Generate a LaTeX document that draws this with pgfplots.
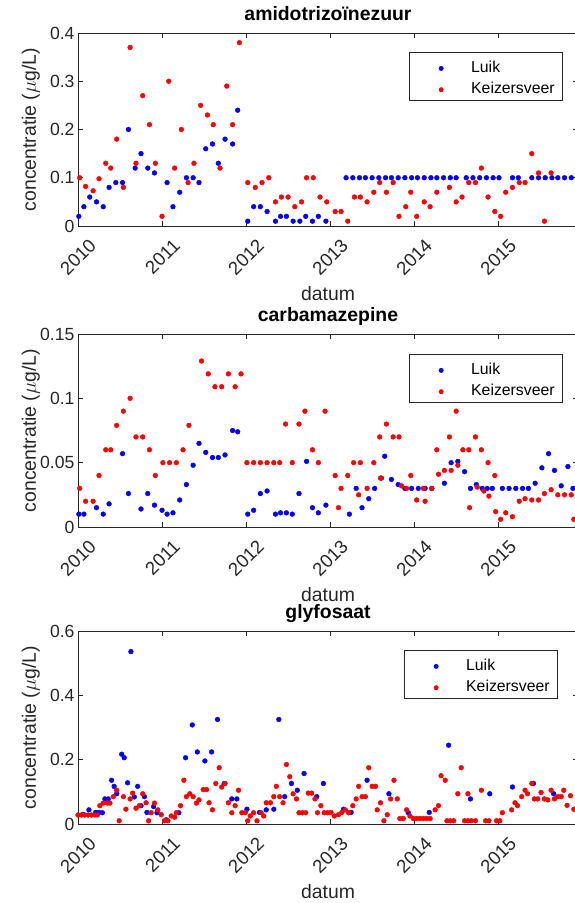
\documentclass[border=0pt]{standalone}
\usepackage{fontspec}
\setmainfont{Liberation Sans}
\usepackage{pgfplots}
\pgfplotsset{compat=1.18}
\definecolor{axgray}{RGB}{38,38,38}
\definecolor{mblue}{RGB}{0,0,255}
\definecolor{mred}{RGB}{255,0,0}
\pgfplotsset{
  mstyle/.style={
    scale only axis, width=500pt, height=193pt,
    xmin=2010, xmax=2015.95,
    xtick={2010,2011,2012,2013,2014,2015},
    xticklabels={2010,2011,2012,2013,2014,2015},
    tick align=inside, major tick length=5pt,
    axis line style={axgray, line width=0.8pt},
    every tick/.style={axgray, line width=0.8pt},
    ticklabel style={font=\fontsize{17.6}{20}\selectfont, text=axgray},
    xticklabel style={xshift=10pt, yshift=-10pt, rotate=45, anchor=north east, inner sep=1pt, font=\fontsize{18.6}{20}\selectfont},
    yticklabel style={/pgf/number format/fixed, /pgf/number format/assume math mode=true},
    xlabel={datum},
    ylabel={concentratie ($\mu$g/L)},
    xlabel style={at={(axis description cs:0.5,-0.311)}, anchor=north, inner sep=0pt},
    ylabel style={at={(axis description cs:-0.076,0.5)}, anchor=south, inner sep=0pt},
    label style={font=\fontsize{19.4}{22}\selectfont, text=axgray},
    title style={at={(axis description cs:0.5,1.036)}, anchor=base, inner sep=0pt, font=\bfseries\fontsize{19.4}{22}\selectfont, text=black},
    legend style={at={(axis description cs:1,1)}, anchor=north east, xshift=-15pt, yshift=-19pt,
      draw=axgray, line width=0.8pt, font=\fontsize{15.8}{18}\selectfont, text=black,
      inner xsep=8pt, inner ysep=6pt, row sep=6.3pt,
      nodes={inner sep=0pt, text height=14pt, text depth=1pt}},
    legend cell align=left,
  },
  lk/.style={only marks, mark=*, color=mblue, mark size=2.4pt,
    legend image code/.code={\path[draw=none,fill=none] (0pt,0pt) rectangle (54pt,0pt); \fill[mblue,draw=none] (24pt,-2.5pt) circle (2.5pt);}},
  kz/.style={only marks, mark=*, color=mred, mark size=2.4pt,
    legend image code/.code={\path[draw=none,fill=none] (0pt,0pt) rectangle (54pt,0pt); \fill[mred,draw=none] (24pt,-2.5pt) circle (2.5pt);}},
}
\begin{document}
\begin{tikzpicture}
% ---------- amidotrizoinezuur ----------
\begin{axis}[mstyle, at={(78pt,677pt)}, anchor=south west,
  ymin=0, ymax=0.4, ytick={0,0.1,0.2,0.3,0.4},
  title={amidotrizoïnezuur}]
\addplot[lk] coordinates {
(2010.01,0.02)(2010.07,0.04)(2010.14,0.06)(2010.22,0.05)(2010.30,0.04)(2010.37,0.08)(2010.45,0.09)(2010.53,0.09)(2010.60,0.20)(2010.68,0.12)(2010.75,0.15)(2010.83,0.12)(2010.91,0.11)(2011.06,0.09)(2011.13,0.04)(2011.21,0.07)(2011.29,0.10)(2011.37,0.10)(2011.44,0.09)(2011.52,0.16)(2011.60,0.17)(2011.67,0.13)(2011.75,0.18)(2011.84,0.17)(2011.90,0.24)(2012.02,0.01)(2012.09,0.04)(2012.17,0.04)(2012.25,0.03)(2012.35,0.01)(2012.41,0.02)(2012.48,0.02)(2012.56,0.01)(2012.64,0.01)(2012.71,0.02)(2012.79,0.01)(2012.86,0.02)(2012.95,0.01)
(2013.19,0.1)(2013.27,0.1)(2013.35,0.1)(2013.42,0.1)(2013.50,0.1)(2013.58,0.1)(2013.66,0.1)(2013.73,0.1)(2013.81,0.1)(2013.89,0.1)(2013.97,0.1)(2014.04,0.1)(2014.12,0.1)(2014.20,0.1)(2014.27,0.1)(2014.35,0.1)(2014.43,0.1)(2014.50,0.1)
(2014.62,0.1)(2014.70,0.1)(2014.78,0.1)(2014.86,0.1)(2014.94,0.1)(2015.01,0.1)(2015.17,0.1)(2015.24,0.1)(2015.40,0.1)(2015.48,0.1)(2015.56,0.1)(2015.64,0.1)(2015.71,0.1)(2015.79,0.1)(2015.87,0.1)(2015.95,0.1)
};
\addlegendentry{Luik}
\addplot[kz] coordinates {
(2010.02,0.10)(2010.09,0.082)(2010.18,0.073)(2010.25,0.098)(2010.33,0.13)(2010.39,0.12)(2010.46,0.18)(2010.54,0.08)(2010.62,0.37)(2010.69,0.13)(2010.77,0.27)(2010.85,0.21)(2010.92,0.13)(2011.00,0.02)(2011.08,0.30)(2011.15,0.12)(2011.23,0.20)(2011.31,0.09)(2011.38,0.13)(2011.46,0.25)(2011.54,0.23)(2011.61,0.21)(2011.69,0.12)(2011.77,0.29)(2011.84,0.21)(2011.92,0.38)(2012.02,0.09)(2012.11,0.08)(2012.19,0.09)(2012.27,0.10)(2012.35,0.05)(2012.42,0.06)(2012.50,0.06)(2012.58,0.04)(2012.66,0.05)(2012.72,0.10)(2012.80,0.10)(2012.88,0.06)(2012.96,0.05)(2013.06,0.03)(2013.13,0.03)(2013.21,0.01)(2013.29,0.06)(2013.36,0.06)(2013.44,0.05)(2013.52,0.07)(2013.59,0.09)(2013.67,0.07)(2013.75,0.09)(2013.82,0.02)(2013.90,0.04)(2013.96,0.07)(2014.03,0.02)(2014.12,0.05)(2014.19,0.04)(2014.27,0.07)(2014.42,0.08)(2014.50,0.05)(2014.57,0.06)(2014.65,0.09)(2014.73,0.09)(2014.80,0.12)(2014.88,0.06)(2014.96,0.03)(2015.03,0.02)(2015.09,0.07)(2015.17,0.08)(2015.25,0.09)(2015.32,0.09)(2015.40,0.15)(2015.48,0.11)(2015.55,0.01)(2015.63,0.11)
};
\addlegendentry{Keizersveer}
\end{axis}
% ---------- carbamazepine ----------
\begin{axis}[mstyle, at={(78pt,376pt)}, anchor=south west,
  ymin=0, ymax=0.15, ytick={0,0.05,0.1,0.15},
  yticklabels={0,0.05,0.1,0.15},
  legend style={yshift=-1pt},
  title={carbamazepine}]
\addplot[lk] coordinates {
(2010.01,0.010)(2010.07,0.010)(2010.22,0.015)(2010.30,0.010)(2010.37,0.018)(2010.53,0.057)(2010.60,0.026)(2010.75,0.014)(2010.83,0.026)(2010.91,0.017)(2011.00,0.013)(2011.06,0.010)(2011.13,0.011)(2011.21,0.021)(2011.29,0.033)(2011.37,0.048)(2011.44,0.065)(2011.52,0.058)(2011.60,0.054)(2011.67,0.054)(2011.75,0.056)(2011.84,0.075)(2011.90,0.074)(2012.02,0.010)(2012.09,0.013)(2012.17,0.026)(2012.25,0.028)(2012.35,0.010)(2012.41,0.011)(2012.48,0.011)(2012.55,0.010)(2012.63,0.026)(2012.72,0.051)(2012.79,0.015)(2012.86,0.011)(2012.95,0.017)(2013.23,0.010)(2013.31,0.030)(2013.38,0.015)(2013.46,0.022)(2013.53,0.030)(2013.61,0.038)(2013.65,0.055)(2013.73,0.037)(2013.81,0.033)(2013.89,0.030)(2013.97,0.030)(2014.05,0.030)(2014.13,0.030)(2014.21,0.030)(2014.36,0.034)(2014.44,0.050)(2014.52,0.051)(2014.60,0.043)(2014.67,0.030)(2014.74,0.033)(2014.81,0.030)(2014.87,0.030)(2014.93,0.030)(2015.05,0.030)(2015.13,0.030)(2015.21,0.030)(2015.29,0.030)(2015.36,0.030)(2015.44,0.034)(2015.52,0.046)(2015.60,0.057)(2015.67,0.044)(2015.75,0.032)(2015.83,0.047)(2015.89,0.030)
};
\addlegendentry{Luik}
\addplot[kz] coordinates {
(2010.02,0.030)(2010.09,0.020)(2010.18,0.020)(2010.25,0.040)(2010.33,0.060)(2010.39,0.060)(2010.46,0.079)(2010.54,0.090)(2010.62,0.100)(2010.69,0.070)(2010.77,0.070)(2010.85,0.060)(2010.92,0.040)(2011.01,0.050)(2011.09,0.050)(2011.17,0.050)(2011.25,0.060)(2011.32,0.079)(2011.47,0.129)(2011.55,0.119)(2011.63,0.109)(2011.71,0.109)(2011.79,0.119)(2011.87,0.109)(2011.94,0.119)(2012.01,0.05)(2012.09,0.05)(2012.17,0.05)(2012.25,0.05)(2012.33,0.05)(2012.40,0.05)(2012.47,0.080)(2012.55,0.05)(2012.63,0.080)(2012.70,0.090)(2012.79,0.060)(2012.86,0.050)(2012.94,0.090)(2013.06,0.040)(2013.10,0.015)(2013.13,0.030)(2013.21,0.040)(2013.28,0.050)(2013.34,0.025)(2013.36,0.050)(2013.44,0.030)(2013.52,0.050)(2013.59,0.070)(2013.60,0.038)(2013.67,0.080)(2013.75,0.070)(2013.82,0.070)(2013.85,0.032)(2013.91,0.030)(2013.96,0.040)(2014.03,0.021)(2014.11,0.030)(2014.13,0.020)(2014.21,0.030)(2014.27,0.060)(2014.29,0.041)(2014.36,0.044)(2014.42,0.070)(2014.44,0.044)(2014.50,0.090)(2014.52,0.048)(2014.58,0.060)(2014.65,0.060)(2014.66,0.015)(2014.73,0.070)(2014.75,0.031)(2014.80,0.060)(2014.83,0.028)(2014.88,0.050)(2014.89,0.024)(2014.96,0.040)(2014.97,0.012)(2015.03,0.006)(2015.09,0.011)(2015.17,0.008)(2015.25,0.020)(2015.32,0.022)(2015.40,0.021)(2015.48,0.021)(2015.55,0.026)(2015.63,0.029)(2015.71,0.025)(2015.79,0.025)(2015.87,0.025)(2015.90,0.006)
};
\addlegendentry{Keizersveer}
\end{axis}
% ---------- glyfosaat ----------
\begin{axis}[mstyle, at={(78pt,79pt)}, anchor=south west,
  ymin=0, ymax=0.6, ytick={0,0.2,0.4,0.6},
  legend style={xshift=-5pt},
  title={glyfosaat}]
\addplot[lk] coordinates {
(2010.06,0.03)(2010.13,0.044)(2010.21,0.036)(2010.25,0.036)(2010.29,0.035)(2010.32,0.078)(2010.36,0.078)(2010.40,0.136)(2010.43,0.117)(2010.46,0.094)(2010.52,0.217)(2010.55,0.206)(2010.59,0.128)(2010.63,0.536)(2010.67,0.084)(2010.71,0.117)(2010.75,0.057)(2010.79,0.085)(2010.82,0.036)(2010.90,0.054)(2010.94,0.035)(2011.05,0.013)(2011.20,0.035)(2011.28,0.206)(2011.36,0.308)(2011.42,0.224)(2011.51,0.196)(2011.59,0.224)(2011.66,0.325)(2011.74,0.126)(2011.83,0.078)(2011.89,0.078)(2012.01,0.046)(2012.16,0.036)(2012.24,0.044)(2012.33,0.046)(2012.39,0.325)(2012.46,0.085)(2012.54,0.126)(2012.61,0.105)(2012.69,0.157)(2012.84,0.085)(2012.92,0.126)(2013.16,0.046)(2013.25,0.036)(2013.44,0.136)(2013.70,0.094)(2013.93,0.035)(2014.18,0.036)(2014.41,0.245)(2014.67,0.078)(2014.90,0.094)(2015.17,0.115)(2015.42,0.126)(2015.66,0.094)
};
\addlegendentry{Luik}
\addplot[kz] coordinates {
(2010.00,0.028)(2010.04,0.028)(2010.08,0.028)(2010.12,0.028)(2010.16,0.028)(2010.20,0.028)(2010.23,0.028)(2010.26,0.057)(2010.30,0.065)(2010.35,0.065)(2010.38,0.065)(2010.42,0.085)(2010.46,0.105)(2010.49,0.010)(2010.54,0.085)(2010.57,0.046)(2010.62,0.078)(2010.65,0.096)(2010.69,0.049)(2010.73,0.057)(2010.77,0.094)(2010.81,0.066)(2010.84,0.010)(2010.87,0.035)(2010.91,0.065)(2010.95,0.044)(2010.99,0.029)(2011.03,0.010)(2011.07,0.010)(2011.11,0.025)(2011.15,0.021)(2011.17,0.035)(2011.22,0.057)(2011.26,0.136)(2011.29,0.085)(2011.33,0.094)(2011.37,0.085)(2011.41,0.065)(2011.44,0.075)(2011.49,0.107)(2011.53,0.107)(2011.56,0.066)(2011.60,0.044)(2011.64,0.126)(2011.68,0.175)(2011.71,0.115)(2011.75,0.126)(2011.79,0.066)(2011.83,0.035)(2011.87,0.057)(2011.91,0.105)(2011.95,0.035)(2011.99,0.035)(2012.02,0.010)(2012.05,0.025)(2012.09,0.035)(2012.13,0.010)(2012.18,0.035)(2012.21,0.025)(2012.24,0.066)(2012.29,0.066)(2012.33,0.085)(2012.36,0.117)(2012.40,0.085)(2012.44,0.066)(2012.48,0.185)(2012.52,0.147)(2012.56,0.094)(2012.60,0.078)(2012.63,0.035)(2012.67,0.035)(2012.71,0.035)(2012.74,0.096)(2012.78,0.096)(2012.82,0.078)(2012.85,0.035)(2012.89,0.057)(2012.93,0.035)(2012.97,0.035)(2013.01,0.036)(2013.05,0.025)(2013.10,0.029)(2013.14,0.036)(2013.18,0.044)(2013.22,0.035)(2013.27,0.057)(2013.31,0.078)(2013.34,0.117)(2013.38,0.085)(2013.42,0.085)(2013.46,0.175)(2013.50,0.117)(2013.54,0.117)(2013.56,0.044)(2013.60,0.066)(2013.64,0.010)(2013.68,0.029)(2013.72,0.078)(2013.76,0.136)(2013.80,0.078)(2013.83,0.017)(2013.87,0.017)(2013.91,0.044)(2013.95,0.025)(2013.99,0.017)(2014.03,0.017)(2014.07,0.017)(2014.11,0.017)(2014.15,0.017)(2014.19,0.017)(2014.25,0.044)(2014.29,0.057)(2014.32,0.150)(2014.37,0.136)(2014.39,0.010)(2014.43,0.010)(2014.47,0.010)(2014.52,0.094)(2014.56,0.175)(2014.60,0.010)(2014.64,0.010)(2014.64,0.094)(2014.68,0.010)(2014.73,0.010)(2014.80,0.105)(2014.85,0.010)(2014.89,0.010)(2014.98,0.010)(2015.02,0.010)(2015.05,0.035)(2015.16,0.044)(2015.20,0.066)(2015.23,0.057)(2015.28,0.085)(2015.32,0.105)(2015.35,0.094)(2015.40,0.126)(2015.43,0.078)(2015.47,0.078)(2015.51,0.098)(2015.55,0.078)(2015.59,0.075)(2015.63,0.105)(2015.67,0.078)(2015.71,0.085)(2015.75,0.085)(2015.78,0.105)(2015.82,0.058)(2015.86,0.088)(2015.90,0.046)
};
\addlegendentry{Keizersveer}
\end{axis}
\pgfresetboundingbox
\useasboundingbox (0pt,0pt) rectangle (575pt,903pt);
\end{tikzpicture}
\end{document}
